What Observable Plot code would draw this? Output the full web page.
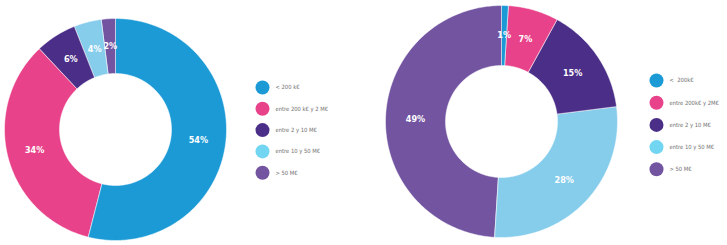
<!DOCTYPE html>
<html><head><meta charset="utf-8">
<script src="https://cdn.jsdelivr.net/npm/d3@7"></script>
<script src="https://cdn.jsdelivr.net/npm/@observablehq/plot@0.6"></script>
<style>body{margin:0;background:#fff}</style>
</head><body><div id="chart"></div>
<script>
// ---- data ----
const categoriesLeft = ["< 200 k€", "entre 200 k€ y 2 M€", "entre 2 y 10 M€", "entre 10 y 50 M€", "> 50 M€"];
const categoriesRight = ["<  200k€", "entre 200k€ y 2M€", "entre 2 y 10 M€", "entre 10 y 50 M€", "> 50 M€"];
const valuesLeft = [54, 34, 6, 4, 2];
const valuesRight = [1, 7, 15, 28, 49];
const colors = ["#1b9ad6", "#e8428a", "#4b2e88", "#86cdec", "#7254a1"];
const legendColors = ["#1b9ad6", "#e8428a", "#4b2e88", "#72d5f1", "#7254a1"];

// ---- layout ----
const W = 727, H = 245;
const donuts = [
  {name: "left", values: valuesLeft, labels: categoriesLeft, cx: 115, cy: 129, ro: 111, ri: 56, lx: 262, ly: 87, ldy: 21.3},
  {name: "right", values: valuesRight, labels: categoriesRight, cx: 501, cy: 121, ro: 116, ri: 56, lx: 656, ly: 80, ldy: 22.2}
];

const polys = [], labels = [], legend = [];
for (const d of donuts) {
  const total = d3.sum(d.values);
  let acc = 0;
  d.values.forEach((v, i) => {
    const a0 = acc / total * 2 * Math.PI;
    acc += v;
    const a1 = acc / total * 2 * Math.PI;
    const key = d.name + i;
    const n = Math.max(2, Math.ceil((a1 - a0) / (Math.PI / 180)));
    for (let k = 0; k <= n; k++) {
      const a = a0 + (a1 - a0) * k / n;
      polys.push({key, ci: i, x: d.cx + d.ro * Math.sin(a), y: d.cy - d.ro * Math.cos(a)});
    }
    for (let k = n; k >= 0; k--) {
      const a = a0 + (a1 - a0) * k / n;
      polys.push({key, ci: i, x: d.cx + d.ri * Math.sin(a), y: d.cy - d.ri * Math.cos(a)});
    }
    const am = (a0 + a1) / 2, rm = (d.ro + d.ri) / 2;
    labels.push({x: d.cx + rm * Math.sin(am), y: d.cy - rm * Math.cos(am), text: v + "%"});
    legend.push({ci: i, x: d.lx, y: d.ly + i * d.ldy, text: d.labels[i]});
  });
}

const chart = Plot.plot({
  width: W, height: H, margin: 0,
  style: {background: "#fff", fontFamily: "'DejaVu Sans Condensed', 'DejaVu Sans', sans-serif"},
  x: {domain: [0, W], range: [0, W], axis: null},
  y: {domain: [0, H], range: [0, H], axis: null},
  color: {domain: d3.range(colors.length), range: colors},
  marks: [
    Plot.line(polys, {x: "x", y: "y", z: "key", fill: "ci", stroke: "white", strokeWidth: 0.5, curve: "linear-closed"}),
    Plot.text(labels, {x: "x", y: "y", text: "text", fill: "white", fontWeight: "bold", fontSize: 9}),
    Plot.dot(legend, {x: "x", y: "y", r: 7, fill: d => legendColors[d.ci], stroke: null}),
    Plot.text(legend, {x: d => d.x + 13, y: "y", text: "text", textAnchor: "start", fill: "#707070", fontSize: 5.8})
  ]
});
document.getElementById("chart").append(chart);
</script>
</body></html>
